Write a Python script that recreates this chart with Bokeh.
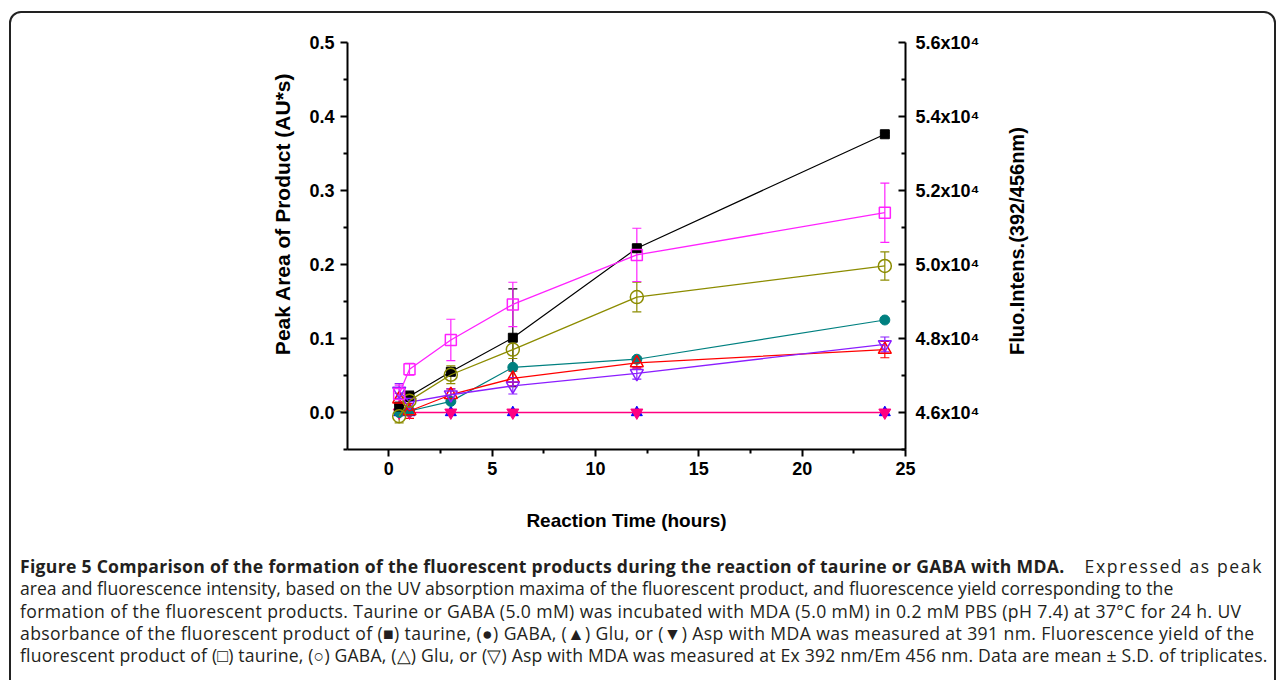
from bokeh.plotting import figure
from bokeh.layouts import column
from bokeh.models import (Range1d, LinearAxis, FixedTicker, PrintfTickFormatter,
                          CustomJSTickFormatter, Whisker, ColumnDataSource,
                          TeeHead, Div)
from bokeh.embed import file_html
from bokeh.resources import INLINE

# ---------------- data ----------------
time_h = [0.5, 1, 3, 6, 12, 24]

# UV absorbance: peak area of product (AU*s), left axis
uv_taurine = [0.008, 0.022, 0.055, 0.101, 0.222, 0.376]
uv_taurine_sd = [0.003, 0.007, 0.004, 0.066, 0.004, 0.002]
uv_gaba = [0.0, 0.002, 0.015, 0.061, 0.072, 0.125]
uv_glu = [0.0, 0.0, 0.0, 0.0, 0.0, 0.0]
uv_asp = [0.0, 0.0, 0.0, 0.0, 0.0, 0.0]

# Fluorescence intensity (392/456 nm), right axis
fl_taurine = [46500, 47170, 47960, 48920, 50260, 51400]
fl_taurine_sd = [240, 160, 560, 600, 720, 800]
fl_gaba = [45900, 46320, 47020, 47700, 49120, 49960]
fl_gaba_sd = [180, 160, 240, 240, 400, 380]
fl_glu = [46360, 46040, 46480, 46920, 47340, 47700]
fl_glu_sd = [160, 200, 160, 200, 160, 220]
fl_asp = [46580, 46280, 46480, 46720, 47060, 47840]
fl_asp_sd = [200, 160, 160, 220, 160, 200]

x_ticks = [0, 5, 10, 15, 20, 25]
x_minor = [2.5, 7.5, 12.5, 17.5, 22.5]
y_ticks = [0.0, 0.1, 0.2, 0.3, 0.4, 0.5]
y_minor = [-0.05, 0.05, 0.15, 0.25, 0.35, 0.45]
y2_ticks = [46000, 48000, 50000, 52000, 54000, 56000]
y2_minor = [45000, 47000, 49000, 51000, 53000, 55000]

x_label = "Reaction Time (hours)"
y_label = "Peak Area of Product (AU*s)"
y2_label = "Fluo.Intens.(392/456nm)"

caption_bold = "Figure 5 Comparison of the formation of the fluorescent products during the reaction of taurine or GABA with MDA."
caption_tail = "Expressed as peak"
caption_lines = [
    "area and fluorescence intensity, based on the UV absorption maxima of the fluorescent product, and fluorescence yield corresponding to the",
    "formation of the fluorescent products. Taurine or GABA (5.0 mM) was incubated with MDA (5.0 mM) in 0.2 mM PBS (pH 7.4) at 37°C for 24 h. UV",
    "absorbance of the fluorescent product of (\u25a0) taurine, (\u25cf) GABA, (\u25b2) Glu, or (\u25bc) Asp with MDA was measured at 391 nm. Fluorescence yield of the",
    "fluorescent product of (\u25a1) taurine, (\u25cb) GABA, (\u25b3) Glu, or (\u25bd) Asp with MDA was measured at Ex 392 nm/Em 456 nm. Data are mean \u00b1 S.D. of triplicates.",
]

# ---------------- main figure ----------------
AX_FONT = "Liberation Sans"
W, H1, H2 = 1280, 540, 138
FR_L, FR_R, FR_T, FR_B = 347, 905, 42, 449
NB = "\u00a0"

p = figure(width=W, height=H1, output_backend="svg", toolbar_location=None,
           x_range=Range1d(-2, 25), y_range=Range1d(-0.05, 0.5),
           min_border_left=FR_L, min_border_right=W - FR_R, min_border_top=FR_T,
           min_border_bottom=H1 - FR_B)
p.extra_y_ranges = {"fluo": Range1d(45000, 56000)}
p.grid.visible = False
p.outline_line_color = None
p.background_fill_color = "white"
p.border_fill_color = "white"

def style_axis(ax, label_size):
    ax.axis_line_width = 2
    ax.axis_line_color = "black"
    ax.major_tick_line_width = 2
    ax.minor_tick_line_width = 2
    ax.major_tick_line_color = "black"
    ax.minor_tick_line_color = "black"
    ax.major_label_text_font = AX_FONT
    ax.major_label_text_font_style = "bold"
    ax.major_label_text_font_size = "18px"
    ax.major_label_text_color = "black"
    ax.axis_label_text_font = AX_FONT
    ax.axis_label_text_font_style = "bold"
    ax.axis_label_text_font_size = label_size
    ax.axis_label_text_color = "black"

xa = p.xaxis[0]
style_axis(xa, "19px")
xa.ticker = FixedTicker(ticks=x_ticks, minor_ticks=x_minor)
xa.major_tick_out = 7
xa.major_tick_in = 0
xa.minor_tick_out = 4
xa.minor_tick_in = 0
xa.major_label_standoff = 5
xa.axis_label = x_label
xa.axis_label_standoff = 32

ya = p.yaxis[0]
style_axis(ya, "21px")
ya.ticker = FixedTicker(ticks=y_ticks, minor_ticks=y_minor)
ya.formatter = PrintfTickFormatter(format="%.1f")
ya.major_tick_out = 7
ya.major_tick_in = 0
ya.minor_tick_out = 4
ya.minor_tick_in = 0
ya.major_label_standoff = 6
ya.axis_label = NB * 11 + y_label
ya.axis_label_standoff = 12

y2 = LinearAxis(y_range_name="fluo")
style_axis(y2, "20px")
y2.ticker = FixedTicker(ticks=y2_ticks, minor_ticks=y2_minor)
y2.formatter = CustomJSTickFormatter(code="return (tick/10000).toFixed(1) + 'x10\u2074';")
y2.major_tick_out = 0
y2.major_tick_in = 7
y2.minor_tick_out = 0
y2.minor_tick_in = 4
y2.major_label_standoff = 10
y2.axis_label = NB * 17 + y2_label
y2.axis_label_standoff = 35
y2.axis_label_orientation = 1.5707963267948966
y2.axis_label_align = "start"
p.add_layout(y2, "right")

# ---------------- series ----------------
def whisk(xs, ys, sds, color, rng=None):
    src = ColumnDataSource(dict(x=xs, lo=[a - b for a, b in zip(ys, sds)],
                                hi=[a + b for a, b in zip(ys, sds)]))
    kw = {}
    if rng:
        kw["y_range_name"] = rng
    w = Whisker(source=src, base="x", lower="lo", upper="hi",
                line_color=color, line_width=1.2,
                upper_head=TeeHead(size=9, line_color=color, line_width=1.2),
                lower_head=TeeHead(size=9, line_color=color, line_width=1.2), **kw)
    p.add_layout(w)

# UV absorbance (filled markers, left axis)
p.line(time_h, uv_glu, line_color="#0000FF", line_width=1.2)
p.scatter(time_h, uv_glu, marker="triangle", size=11, color="#0000FF")
p.line(time_h, uv_asp, line_color="#FF0080", line_width=1.5)
p.scatter(time_h, uv_asp, marker="inverted_triangle", size=12, color="#FF0080")
p.line(time_h, uv_gaba, line_color="#008080", line_width=1.2)
p.scatter(time_h, uv_gaba, marker="circle", size=10, color="#008080")
p.line(time_h, uv_taurine, line_color="black", line_width=1.2)
whisk(time_h, uv_taurine, uv_taurine_sd, "black")
p.scatter(time_h, uv_taurine, marker="square", size=9, color="black")

# fluorescence (open markers, right axis)
fl_series = [
    (fl_glu, fl_glu_sd, "#FF0000", "triangle", 13),
    (fl_asp, fl_asp_sd, "#8B1EFF", "inverted_triangle", 13),
    (fl_gaba, fl_gaba_sd, "#8C8C00", "circle", 13),
    (fl_taurine, fl_taurine_sd, "#FF22FF", "square", 11),
]
for ys, sds, col, mk, sz in fl_series:
    p.line(time_h, ys, line_color=col, line_width=1.3, y_range_name="fluo")
    whisk(time_h, ys, sds, col, "fluo")
    p.scatter(time_h, ys, marker=mk, size=sz, line_color=col, fill_color=None,
              line_width=1.5, y_range_name="fluo")

# ---------------- caption ----------------
line_ls = [0.0, 0.38, 0.4, 0.19]
rows = ['<div style="width:1243px;display:flex;justify-content:space-between;">'
        f'<b style="letter-spacing:0.28px;">{caption_bold}</b>'
        f'<span style="letter-spacing:1.6px;">{caption_tail}</span></div>']
rows += [f'<div style="letter-spacing:{ls}px;">{t}</div>' for t, ls in zip(caption_lines, line_ls)]
cap_html = ('<div style="font-family:\'Open Sans\',sans-serif;font-size:17.6px;color:#231f20;'
            'white-space:nowrap;line-height:22.3px;padding:15px 0 0 20px;margin:0;">'
            + ''.join(rows) + '</div>')
cap = Div(text=cap_html, width=W, height=H2, margin=0)

box = Div(text='<div style="position:fixed;left:9px;top:11px;width:1267px;height:720px;'
               'border:2px solid #222222;border-radius:12px;box-sizing:border-box;'
               'pointer-events:none;"></div>', width=10, height=1, margin=0)

layout = column(p, cap, box, spacing=0)
open("out.html", "w").write(file_html(layout, INLINE))
